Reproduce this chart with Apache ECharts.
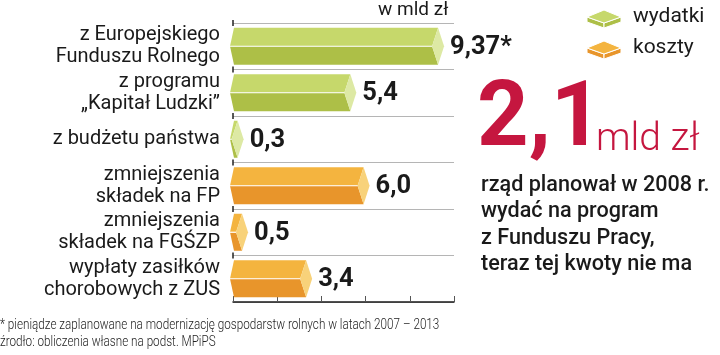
<!DOCTYPE html>
<html><head><meta charset="utf-8">
<script src="https://cdn.jsdelivr.net/npm/echarts@6/dist/echarts.min.js"></script>
<style>html,body{margin:0;padding:0;background:#fff}#c{width:720px;height:355px}</style>
</head><body><div id="c"></div>
<script>
const categories = ["z Europejskiego\nFunduszu Rolnego", "z programu\n„Kapitał Ludzki”", "z budżetu państwa", "zmniejszenia\nskładek na FP", "zmniejszenia\nskładek na FGŚZP", "wypłaty zasiłków\nchorobowych z ZUS"];
const values = [9.37, 5.4, 0.3, 6.0, 0.5, 3.4];
const valueLabels = ["9,37*", "5,4", "0,3", "6,0", "0,5", "3,4"];
const groups = [0, 0, 0, 1, 1, 1];
const legendNames = ["wydatki", "koszty"];
const axisTicks = [0, 10, 2];

const palette = [
  {top: '#c6d86b', bottom: '#adbf47', cap: '#dde9a4'},
  {top: '#f4b43f', bottom: '#e8952b', cap: '#f8d27a'}
];

const chart = echarts.init(document.getElementById('c'));

function renderItem(params, api) {
  const idx = api.value(1);
  const v = api.value(0);
  const p0 = api.coord([0, idx]);
  const p1 = api.coord([v, idx]);
  const band = api.size([0, 1])[1];
  const h = band * 0.4;
  const x0 = p0[0] + 1, y = p0[1];
  const d = 6, dl = 4;
  const xe = p1[0] - 2;
  const c = palette[groups[idx]];
  const yb = y - band / 2;
  const children = [
    {type: 'line', shape: {x1: p0[0], y1: yb - 3, x2: p0[0], y2: yb + 3}, style: {stroke: '#222', lineWidth: 1.5}},
    {type: 'polygon', shape: {points: [[x0, y - h], [xe, y - h], [xe - d, y], [x0 - dl, y]]}, style: {fill: c.top}},
    {type: 'polygon', shape: {points: [[x0 - dl, y], [xe - d, y], [xe, y + h], [x0, y + h]]}, style: {fill: c.bottom}},
    {type: 'polygon', shape: {points: [[xe, y - h], [xe + d, y], [xe, y + h], [xe - d, y]]}, style: {fill: c.cap}},
    {type: 'line', shape: {x1: x0 - dl, y1: y, x2: xe - d, y2: y}, style: {stroke: '#fff', lineWidth: 1.2}},
    {type: 'text', style: {text: valueLabels[idx], x: xe + d + 6, y: y + 1, verticalAlign: 'middle', align: 'left',
      font: 'bold 25.5px Roboto, sans-serif', fill: '#1a1a1a'}}
  ];
  return {type: 'group', children: children};
}

function legendIcon(x, y, c) {
  return [
    {type: 'polygon', shape: {points: [[x, y], [x + 17, y + 6], [x + 17, y + 11], [x, y + 5]]}, style: {fill: c.bottom, stroke: '#fff', lineWidth: 1}},
    {type: 'polygon', shape: {points: [[x + 17, y + 6], [x + 34, y], [x + 34, y + 5], [x + 17, y + 11]]}, style: {fill: c.bottom, stroke: '#fff', lineWidth: 1}},
    {type: 'polygon', shape: {points: [[x, y], [x + 17, y - 7], [x + 34, y], [x + 17, y + 6]]}, style: {fill: c.top, stroke: '#fff', lineWidth: 1}}
  ];
}

const graphics = [
  {type: 'text', left: 378, top: 1, style: {text: 'w mld zł', font: '19px Roboto, sans-serif', fill: '#1a1a1a'}},
  ...legendIcon(587, 17, palette[0]),
  ...legendIcon(587, 48, palette[1]),
  {type: 'text', left: 633, top: 6, style: {text: legendNames[0], font: '21px Roboto, sans-serif', fill: '#1a1a1a'}},
  {type: 'text', left: 633, top: 37, style: {text: legendNames[1], font: '21px Roboto, sans-serif', fill: '#1a1a1a'}},
  {type: 'text', left: 477, top: 77, style: {text: '2,1', font: 'bold 90px Roboto, sans-serif', fill: '#c5163f'}},
  {type: 'text', left: 596, top: 121, style: {text: 'mld zł', font: '300 39px Roboto, sans-serif', fill: '#c5163f'}},
  {type: 'text', left: 481, top: 172, scaleX: 0.96, style: {text: 'rząd planował w 2008 r.\nwydać na program\nz Funduszu Pracy,\nteraz tej kwoty nie ma',
    font: '500 22.5px Roboto, sans-serif', lineHeight: 26.5, fill: '#1a1a1a'}},
  {type: 'text', left: 0, top: 316, scaleX: 0.755, style: {text: '* pieniądze zaplanowane na modernizację gospodarstw rolnych w latach 2007 – 2013\nźrodło: obliczenia własne na podst. MPiPS',
    font: '300 15.5px Roboto, sans-serif', lineHeight: 17.5, fill: '#222'}}
];

chart.setOption({
  animation: false,
  grid: {left: 233, right: 266, top: 23, bottom: 53, containLabel: false},
  xAxis: {
    type: 'value', min: axisTicks[0], max: axisTicks[1], interval: axisTicks[2],
    axisLine: {show: true, lineStyle: {color: '#1a1a1a', width: 1.5}},
    axisTick: {show: true, inside: true, length: 6, lineStyle: {color: '#555'}},
    axisLabel: {show: false}, splitLine: {show: false}
  },
  yAxis: {
    type: 'category', data: categories, inverse: true,
    axisLine: {show: false}, axisTick: {show: false},
    splitLine: {show: true, lineStyle: {color: '#b5b5b5', width: 1}},
    axisLabel: {margin: 13, fontSize: 20, lineHeight: 22, color: '#1a1a1a', fontFamily: 'Roboto, sans-serif', align: 'right'}
  },
  series: [{
    type: 'custom', renderItem: renderItem, encode: {x: 0, y: 1},
    data: values.map((v, i) => [v, i]), clip: false
  }],
  graphic: graphics
});
</script></body></html>
